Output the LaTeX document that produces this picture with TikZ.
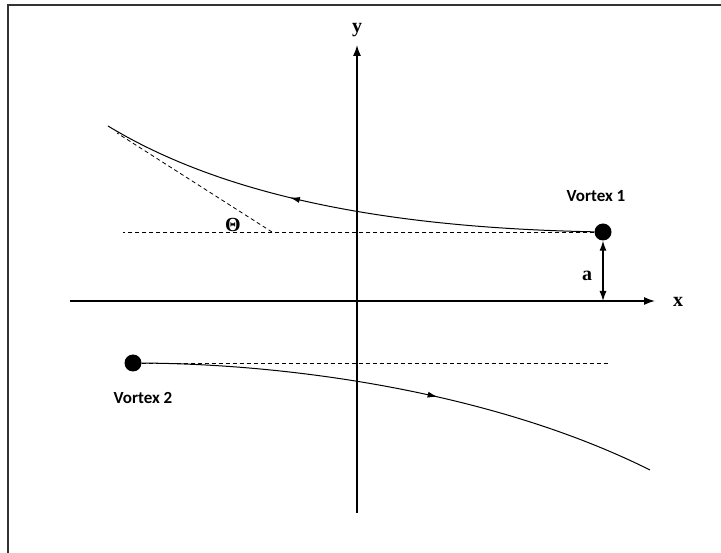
\documentclass[tikz,border=0pt]{standalone}
\usepackage{fontspec}
\setmainfont{Liberation Serif}
\newfontfamily\labelfont{Carlito}
\usetikzlibrary{arrows.meta,decorations.markings}

\tikzset{
  vortex/.style={circle, fill=black, inner sep=0pt, minimum size=17pt},
  vlabel/.style={font=\labelfont\bfseries\fontsize{17}{20}\selectfont},
  axlabel/.style={font=\bfseries\fontsize{20}{24}\selectfont, inner sep=0pt},
  guide/.style={dash pattern=on 4pt off 3pt, line width=0.8pt},
  axis/.style={line width=1.3pt, -{Latex[length=11pt,width=8pt]}},
  track/.style={line width=1pt,
    decoration={markings, mark=at position #1 with {\arrow{Latex[length=10pt,width=6pt]}}},
    postaction={decorate}},
}

\begin{document}
\begin{tikzpicture}[x=1pt, y=-1pt]
  \useasboundingbox (0,0) rectangle (721,553);
  % frame (only top and left edge fall on the page)
  \draw[line width=2pt, black!80] (8,580) -- (8,5) -- (740,5);

  % axes
  \coordinate (xstart) at (70,301);
  \coordinate (xend) at (655,301);
  \coordinate (ystart) at (357,513);
  \coordinate (yend) at (357,45);
  \draw[axis] (xstart) -- (xend);
  \draw[axis] (ystart) -- (yend);
  \node[axlabel] (xlab) at (678,302) {x};
  \node[axlabel] (ylab) at (357,30) {y};

  % vortices
  \node[vortex] (v1) at (603,232) {};
  \node[vortex] (v2) at (133,363) {};
  \node[vlabel] (v1lab) at (596,196) {Vortex 1};
  \node[vlabel] (v2lab) at (143,398) {Vortex 2};

  % dashed reference lines
  \coordinate (h1) at (123,232);
  \coordinate (h2) at (608,363);
  \draw[guide] (v1) -- (h1);
  \draw[guide] (v2) -- (h2);

  % tangent at the far end, angle theta
  \coordinate (t0) at (272,232);
  \coordinate (t1) at (117,133);
  \draw[guide] (t0) -- (t1);
  \node[axlabel] (theta) at (233,225) {Θ};

  % distance a
  \coordinate (foot) at (603,301);
  \draw[line width=1.3pt, {Latex[length=10pt,width=7pt]}-{Latex[length=10pt,width=7pt]}] (v1) -- (foot);
  \node[axlabel] (alab) at (587,276) {a};

  % trajectories
  \coordinate (end1) at (108,126);
  \coordinate (end2) at (650,470);
  \draw[track=0.61] (v1) .. controls (400,228) and (230,200) .. (end1);
  \draw[track=0.57] (v2) .. controls (300,364) and (500,395) .. (end2);
\end{tikzpicture}
\end{document}
